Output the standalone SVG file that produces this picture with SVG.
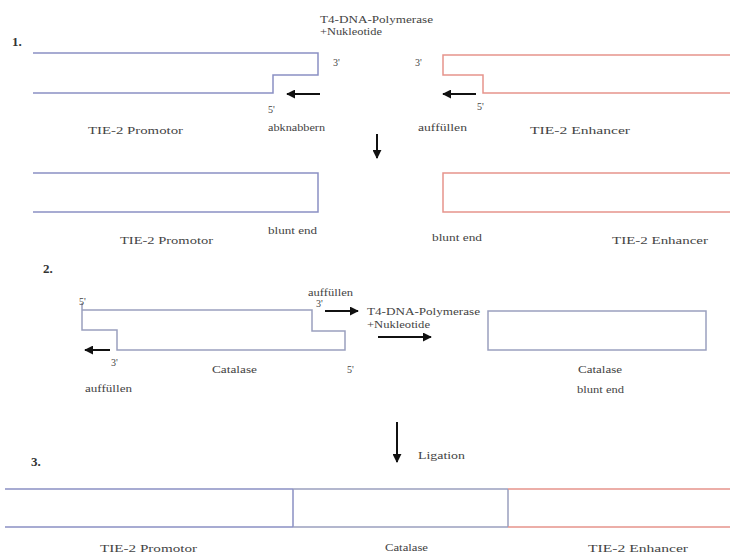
<svg xmlns="http://www.w3.org/2000/svg" width="730" height="559" viewBox="0 0 730 559">
<defs>
<marker id="ah" viewBox="0 0 10 10" refX="9" refY="5" markerWidth="4.5" markerHeight="4.5" markerUnits="strokeWidth" orient="auto">
<path d="M0,0 L10,5 L0,10 Z" fill="#111"/>
</marker>
<style>
text{font-family:"Liberation Serif","DejaVu Serif","Times New Roman",serif;fill:#444;font-size:10px}
.lbl{font-size:11px}
.num{font-size:13px;font-weight:bold;fill:#333}
.b{fill:none;stroke:#8a90c4;stroke-width:1.5}
.r{fill:none;stroke:#e6948c;stroke-width:1.5}
.c{fill:none;stroke:#9aa0bf;stroke-width:1.5}
.arr{stroke:#111;stroke-width:2;fill:none;marker-end:url(#ah)}
</style>
</defs>
<rect width="730" height="559" fill="#fff"/>

<text class="num" x="12" y="46">1.</text>
<text class="num" x="43" y="273">2.</text>
<text class="num" x="31" y="466">3.</text>

<g id="header1">
<text x="320" y="23" textLength="113" lengthAdjust="spacingAndGlyphs">T4-DNA-Polymerase</text>
<text x="320" y="35" textLength="62" lengthAdjust="spacingAndGlyphs">+Nukleotide</text>
</g>

<g id="promotor1">
<path class="b" d="M33,53 H318 V75 H273 V93 H33"/>
<text x="333" y="66">3'</text>
<text x="268" y="113">5'</text>
<text x="268" y="131" textLength="57" lengthAdjust="spacingAndGlyphs">abknabbern</text>
<text class="lbl" x="88" y="134" textLength="95" lengthAdjust="spacingAndGlyphs">TIE-2 Promotor</text>
</g>

<g id="enhancer1">
<path class="r" d="M730,55 H443 V75 H483 V93 H730"/>
<text x="415" y="66">3'</text>
<text x="477" y="110">5'</text>
<text x="418" y="131" textLength="49" lengthAdjust="spacingAndGlyphs">auffüllen</text>
<text class="lbl" x="530" y="134" textLength="100" lengthAdjust="spacingAndGlyphs">TIE-2 Enhancer</text>
</g>

<g id="promotor2">
<path class="b" d="M33,173 H318 V212 H33"/>
<text x="268" y="234" textLength="49" lengthAdjust="spacingAndGlyphs">blunt end</text>
<text class="lbl" x="120" y="244" textLength="93" lengthAdjust="spacingAndGlyphs">TIE-2 Promotor</text>
</g>

<g id="enhancer2">
<path class="r" d="M730,173 H443 V212 H730"/>
<text x="432" y="241" textLength="50" lengthAdjust="spacingAndGlyphs">blunt end</text>
<text class="lbl" x="612" y="244" textLength="96" lengthAdjust="spacingAndGlyphs">TIE-2 Enhancer</text>
</g>

<g id="catalase1">
<path class="c" d="M82,303 V330 H117 V350 H345 V331 H312 V310 H82"/>
<text x="79" y="305">5'</text>
<text x="308" y="296" textLength="45" lengthAdjust="spacingAndGlyphs">auffüllen</text>
<text x="316" y="307">3'</text>
<text x="111" y="366">3'</text>
<text x="212" y="373" textLength="45" lengthAdjust="spacingAndGlyphs">Catalase</text>
<text x="347" y="373">5'</text>
<text x="85" y="392" textLength="47" lengthAdjust="spacingAndGlyphs">auffüllen</text>
</g>

<g id="header2">
<text x="367" y="315" textLength="113" lengthAdjust="spacingAndGlyphs">T4-DNA-Polymerase</text>
<text x="367" y="328" textLength="63" lengthAdjust="spacingAndGlyphs">+Nukleotide</text>
</g>

<g id="catalase2">
<rect class="c" x="488" y="311" width="218" height="39"/>
<text x="578" y="373" textLength="44" lengthAdjust="spacingAndGlyphs">Catalase</text>
<text x="577" y="393" textLength="47" lengthAdjust="spacingAndGlyphs">blunt end</text>
</g>

<g id="ligation">
<text x="418" y="459" textLength="47" lengthAdjust="spacingAndGlyphs">Ligation</text>
</g>

<g id="product">
<path class="b" d="M5,489 H293 M5,527 H293 M293,489 V527"/>
<path class="c" d="M293,489 H508 M293,527 H508 M508,489 V527"/>
<path class="r" d="M508,489 H730 M508,527 H730"/>
<text class="lbl" x="100" y="552" textLength="97" lengthAdjust="spacingAndGlyphs">TIE-2 Promotor</text>
<text x="385" y="551" textLength="43" lengthAdjust="spacingAndGlyphs">Catalase</text>
<text class="lbl" x="588" y="552" textLength="100" lengthAdjust="spacingAndGlyphs">TIE-2 Enhancer</text>
</g>

<g id="connectors">
<line class="arr" x1="320" y1="94" x2="287" y2="94"/>
<line class="arr" x1="476" y1="94" x2="443" y2="94"/>
<line class="arr" x1="377" y1="134" x2="377" y2="158"/>
<line class="arr" x1="110" y1="350" x2="85" y2="350"/>
<line class="arr" x1="325" y1="311" x2="358" y2="311"/>
<line class="arr" x1="378" y1="337" x2="431" y2="337"/>
<line class="arr" x1="397" y1="422" x2="397" y2="462"/>
</g>
</svg>
